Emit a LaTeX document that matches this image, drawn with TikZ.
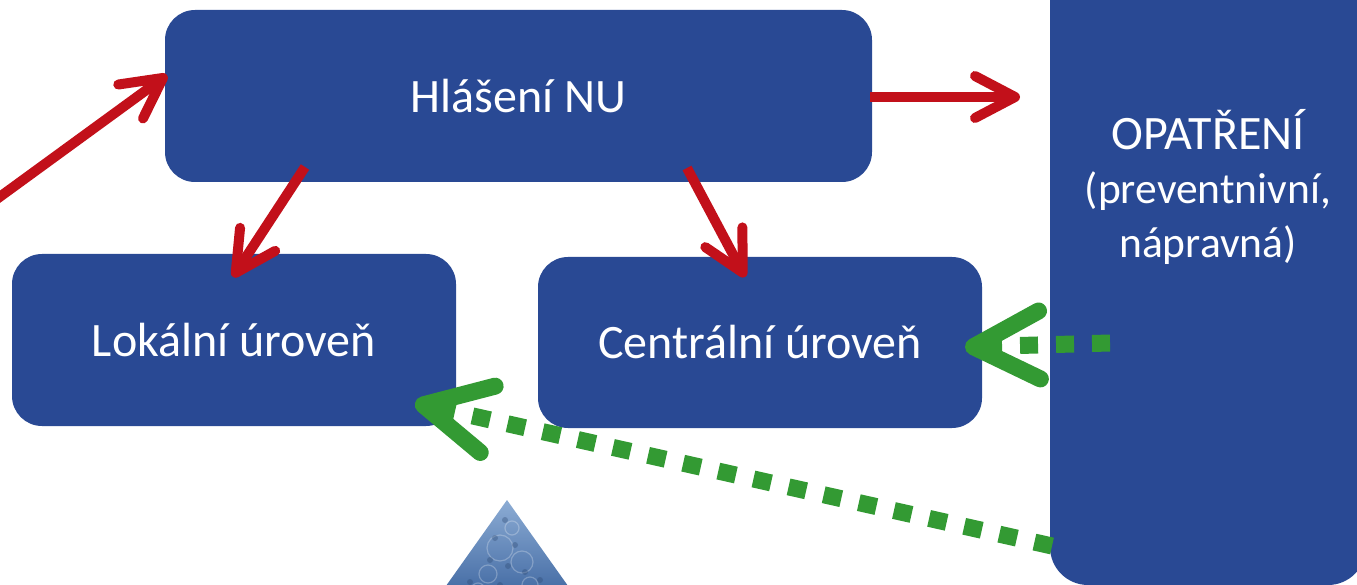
\documentclass[tikz,border=0pt]{standalone}
\usepackage{fontspec}
\setmainfont{Carlito}
\usetikzlibrary{arrows.meta}
\definecolor{boxblue}{RGB}{41,73,148}
\definecolor{arrred}{RGB}{194,16,26}
\definecolor{arrgreen}{RGB}{51,154,51}
\definecolor{iceA}{RGB}{140,172,212}
\definecolor{iceB}{RGB}{62,102,160}
\begin{document}
\begin{tikzpicture}[x=1pt,y=-1pt,
  box/.style={fill=boxblue, rounded corners=30pt, inner sep=0pt},
  boxtext/.style={text=white, font=\fontsize{48}{54}\selectfont, align=center, inner sep=0pt},
  redarrow/.style={draw=arrred, line width=10pt, line cap=round,
    -{Straight Barb[length=40pt,width=42pt,round]}},
  greenarrow/.style={draw=arrgreen, line width=17pt, dash pattern=on 18pt off 18pt,
    -{Straight Barb[length=66pt,width=68pt,round]}}
]
\useasboundingbox (0,0) rectangle (1357,585);
\clip (0,0) rectangle (1357,585);

% small iceberg picture at the bottom
\shade[top color=iceA, bottom color=iceB] (507,500) -- (578,600) -- (436,600) -- cycle;
\begin{scope}
  \clip (507,500) -- (578,600) -- (436,600) -- cycle;
  \foreach \cx/\cy/\r in {500/548/13, 522/562/11, 488/574/9, 512/528/7, 530/585/8, 478/590/7}
    \draw[white, opacity=0.25, line width=1.2pt] (\cx,\cy) circle (\r);
  \foreach \cx/\cy in {505/520, 495/538, 515/545, 525/572, 490/560, 508/566, 540/580, 470/582, 500/585}
    \fill[iceB!70!black, opacity=0.35] (\cx,\cy) circle (3);
\end{scope}

% boxes
\node[box, minimum width=707pt, minimum height=172pt] (hlaseni) at (518.5,96) {};
\node[boxtext] at (hlaseni.center) {Hlášení NU};
\node[box, minimum width=444pt, minimum height=172pt] (lokalni) at (234,340) {};
\node[boxtext] at (lokalni.center) {Lokální úroveň};
\node[box, minimum width=444pt, minimum height=171pt] (centralni) at (760,342.5) {};
\node[boxtext] at (centralni.center) {Centrální úroveň};
\node[box, rounded corners=38pt, minimum width=316pt, minimum height=680pt] (opatreni) at (1208,245) {};
\node[boxtext, font=\fontsize{43.5}{54}\selectfont] (opattext) at (1208,187)
  {{\fontsize{48}{54}\selectfont OPATŘENÍ}\\(preventnivní,\\nápravná)};

% anchor points for the connectors
\coordinate (inL) at (-10,204);
\coordinate (hlTL) at (167,75);
\coordinate (hlR) at (870,97);
\coordinate (opL) at (1020,97);
\coordinate (hlB1) at (305,167);
\coordinate (loT) at (233,277);
\coordinate (hlB2) at (687,168);
\coordinate (ceT) at (745,277);
\coordinate (opM) at (1110,343);
\coordinate (ceR) at (965,347);
\coordinate (opLow) at (1052,546);
\coordinate (loR) at (415,403);

% reporting flows
\draw[redarrow] (inL) -- (hlTL);
\draw[redarrow, line cap=butt] (hlR) -- (opL);
\draw[redarrow, line cap=butt] (hlB1) -- (loT);
\draw[redarrow, line cap=butt] (hlB2) -- (ceT);

% feedback of measures
\draw[greenarrow] (opM) -- (ceR);
\draw[greenarrow] (opLow) -- (loR);
\end{tikzpicture}
\end{document}
